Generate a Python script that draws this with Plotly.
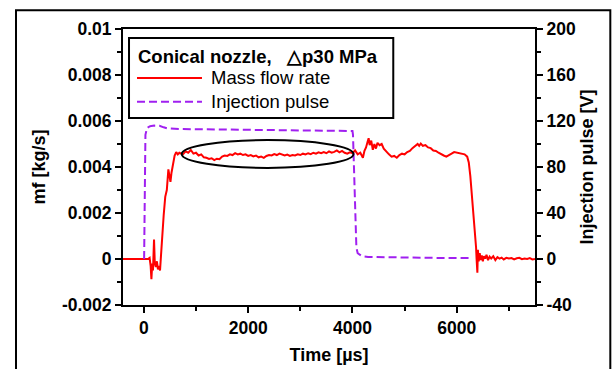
import plotly.graph_objects as go

# ---------------- data ----------------
time_mf = [
    -400, 80, 110, 130, 145, 160, 175, 195, 210, 230,
    250, 270, 290, 310, 330, 350, 380, 410, 440, 470,
    490, 510, 530, 560, 590, 620, 650, 680,
    700, 750, 800, 850, 900, 950, 1000, 1050, 1100, 1150,
    1200, 1250, 1300, 1350, 1400, 1450, 1500, 1550, 1600, 1650,
    1700, 1750, 1800, 1850, 1900, 1950, 2000, 2050, 2100, 2150,
    2200, 2250, 2300, 2350, 2400, 2450, 2500, 2550, 2600, 2650,
    2700, 2750, 2800, 2850, 2900, 2950, 3000, 3050, 3100, 3150,
    3200, 3250, 3300, 3350, 3400, 3450, 3500, 3550, 3600, 3650,
    3700, 3750, 3800, 3850, 3900, 3950, 4000,
    4050, 4100, 4150, 4200, 4230, 4260, 4290, 4310, 4330, 4360,
    4390, 4420, 4450, 4480, 4520, 4560, 4600, 4650, 4700, 4750,
    4800, 4850, 4900, 4950, 5000, 5050, 5100, 5150, 5200, 5250,
    5280, 5310, 5350, 5400, 5450, 5500, 5550, 5600, 5650, 5700,
    5750, 5800, 5850, 5900, 5950, 6000, 6050, 6100, 6150, 6200,
    6230, 6260, 6290, 6320, 6345, 6350, 6360, 6370, 6380, 6395,
    6405, 6420, 6440, 6460, 6480, 6500, 6520, 6545, 6570, 6600,
    6630, 6660, 6700, 6740, 6780, 6820, 6860, 6900, 6950, 7000,
    7050, 7100, 7150, 7200, 7250, 7300, 7350, 7400, 7450, 7500,
]
# mass flow rate in units of 1e-3 kg/s
mf_milli = [
    0, 0, 0.05, -0.3, -0.88, -0.2, -0.5, 0.85, -0.2, -0.35,
    -0.1, -0.45, -0.3, -0.5, 0.2, 1.0, 1.9, 2.7, 3.0, 3.9,
    3.55, 3.35, 3.75, 4.1, 4.5, 4.65, 4.55, 4.62,
    4.60, 4.55, 4.68, 4.62, 4.74, 4.58, 4.62, 4.50, 4.55, 4.42,
    4.40, 4.35, 4.38, 4.30, 4.36, 4.34, 4.45, 4.50, 4.48, 4.55,
    4.52, 4.60, 4.55, 4.58, 4.52, 4.55, 4.48, 4.52, 4.46, 4.50,
    4.42, 4.45, 4.40, 4.48, 4.52, 4.50, 4.56, 4.52, 4.58, 4.55,
    4.50, 4.54, 4.48, 4.52, 4.50, 4.55, 4.52, 4.58, 4.55, 4.60,
    4.56, 4.62, 4.58, 4.64, 4.60, 4.65, 4.60, 4.68, 4.62, 4.66,
    4.72, 4.64, 4.70, 4.62, 4.58, 4.64, 4.60,
    4.72, 4.55, 4.62, 4.40, 4.70, 4.85, 5.10, 5.25, 4.95, 5.15,
    4.75, 5.00, 4.80, 5.05, 4.95, 5.00, 4.80, 4.65, 4.55, 4.45,
    4.48, 4.40, 4.52, 4.58, 4.55, 4.65, 4.70, 4.82, 4.90, 5.00,
    4.92, 5.02, 4.92, 4.95, 4.85, 4.82, 4.72, 4.70, 4.62, 4.55,
    4.50, 4.45, 4.50, 4.58, 4.65, 4.62, 4.60, 4.58, 4.55, 4.45,
    4.20, 3.60, 2.80, 2.00, 1.50, 1.15, 1.10, 0.50, 0.00, -0.60,
    0.40, -0.10, 0.25, -0.05, 0.15, -0.10, 0.12, 0.02, 0.18, -0.05,
    0.10, 0.02, 0.12, -0.05, 0.08, 0.02, 0.06, -0.02, 0.05, 0.02,
    0.04, -0.02, 0.03, 0.05, -0.01, 0.02, 0.00, 0.04, -0.02, 0.00,
]
mf = [v / 1000.0 for v in mf_milli]  # kg/s

time_pulse = [5, 15, 30, 60, 120, 200, 300, 380, 450, 700, 1500, 2500,
              3500, 4000, 4010, 4040, 4075, 4100, 4180, 4300, 4600, 5500, 6300]
pulse_V = [0, 60, 108, 114, 115.5, 116, 115.8, 114.5, 113.6, 113, 112.5, 112,
           111.5, 111.3, 108, 70, 10, 5, 2.5, 1.8, 1.5, 1, 0.8]

x_ticks = [0, 2000, 4000, 6000]
x_ticktext = ["0", "2000", "4000", "6000"]
y_ticks = [-0.002, 0, 0.002, 0.004, 0.006, 0.008, 0.01]
y_ticktext = ["-0.002", "0", "0.002", "0.004", "0.006", "0.008", "0.01"]
y2_ticks = [-40, 0, 40, 80, 120, 160, 200]
y2_ticktext = ["-40", "0", "40", "80", "120", "160", "200"]

legend_title = "Conical nozzle,   \u25B3p30 MPa"
series_names = ["Mass flow rate", "Injection pulse"]

# highlighted plateau region (data coords)
ellipse_t = [725, 4020]
ellipse_mf = [0.00396, 0.00517]

# ---------------- styles ----------------
FONT = "Arial, Liberation Sans, sans-serif"
RED = "#ff0000"
PURPLE = "#a020f0"
FS = 17.5
FS_TITLE = 18
FS_LEG = 18.5

fig = go.Figure()
fig.add_trace(go.Scatter(x=time_mf, y=mf, mode="lines", name=series_names[0],
                         line=dict(color=RED, width=2), showlegend=False))
fig.add_trace(go.Scatter(x=time_pulse, y=pulse_V, mode="lines", name=series_names[1],
                         yaxis="y2", line=dict(color=PURPLE, width=2, dash="8px,4px"),
                         showlegend=False))

tickfont = dict(family=FONT, size=FS, color="black", weight="bold")
titlefont = dict(family=FONT, size=FS_TITLE, color="black", weight="bold")

fig.update_layout(
    width=612, height=369,
    margin=dict(l=123, r=77, t=29, b=64, autoexpand=False),
    paper_bgcolor="white", plot_bgcolor="white",
    xaxis=dict(range=[-400, 7500], showgrid=False, zeroline=False, automargin=False,
               showline=True, linecolor="black", linewidth=2, mirror=True,
               ticks="outside", ticklen=6, tickwidth=2, tickcolor="black",
               tickvals=x_ticks, ticktext=x_ticktext, tickfont=tickfont,
               minor=dict(dtick=1000, tick0=0, ticks="outside", ticklen=4,
                          tickwidth=2, tickcolor="black"),
               title=dict(text="Time [\u00b5s]", font=titlefont, standoff=11)),
    yaxis=dict(range=[-0.002, 0.01], showgrid=False, zeroline=False, automargin=False,
               showline=True, linecolor="black", linewidth=2,
               ticks="outside", ticklen=6, tickwidth=2, tickcolor="black",
               tickvals=y_ticks, ticktext=y_ticktext, tickfont=tickfont,
               minor=dict(dtick=0.001, tick0=0, ticks="outside", ticklen=4,
                          tickwidth=2, tickcolor="black"),
               title=dict(text="mf [kg/s]", font=titlefont, standoff=12)),
    yaxis2=dict(range=[-40, 200], overlaying="y", side="right", showgrid=False,
                zeroline=False, automargin=False, showline=True, linecolor="black",
                linewidth=2,
                ticks="outside", ticklen=6, tickwidth=2, tickcolor="black",
                tickvals=y2_ticks, ticktext=y2_ticktext, tickfont=tickfont,
                minor=dict(dtick=20, tick0=0, ticks="outside", ticklen=4,
                           tickwidth=2, tickcolor="black"),
                title=dict(text="Injection pulse [V]", font=titlefont, standoff=5)),
)

# ellipse highlight
fig.add_shape(type="circle", xref="x", yref="y",
              x0=ellipse_t[0], x1=ellipse_t[1], y0=ellipse_mf[0], y1=ellipse_mf[1],
              line=dict(color="black", width=2))

# outer frame
fig.add_shape(type="rect", xref="paper", yref="paper",
              x0=-0.2597, x1=1.1828, y0=-0.26, y1=1.0678,
              line=dict(color="black", width=2), layer="above")

# manual legend (box, samples, texts)
fig.add_shape(type="rect", xref="paper", yref="paper",
              x0=0.0146, x1=0.656, y0=0.6775, y1=0.967,
              line=dict(color="black", width=2), fillcolor="white", layer="above")
fig.add_annotation(xref="paper", yref="paper", x=0.032, y=0.8996, xanchor="left",
                   yanchor="middle", showarrow=False, text=legend_title,
                   font=dict(family=FONT, size=FS_LEG, color="black", weight="bold"))
fig.add_shape(type="line", xref="paper", yref="paper", x0=0.034, x1=0.1917,
              y0=0.8225, y1=0.8225, line=dict(color=RED, width=2))
fig.add_shape(type="line", xref="paper", yref="paper", x0=0.034, x1=0.1917,
              y0=0.7366, y1=0.7366, line=dict(color=PURPLE, width=2, dash="8px,4px"))
fig.add_annotation(xref="paper", yref="paper", x=0.208, y=0.8225, xanchor="left",
                   yanchor="middle", showarrow=False, text=series_names[0],
                   font=dict(family=FONT, size=FS_LEG, color="black"))
fig.add_annotation(xref="paper", yref="paper", x=0.208, y=0.7366, xanchor="left",
                   yanchor="middle", showarrow=False, text=series_names[1],
                   font=dict(family=FONT, size=FS_LEG, color="black"))

fig.write_html("out.html")
